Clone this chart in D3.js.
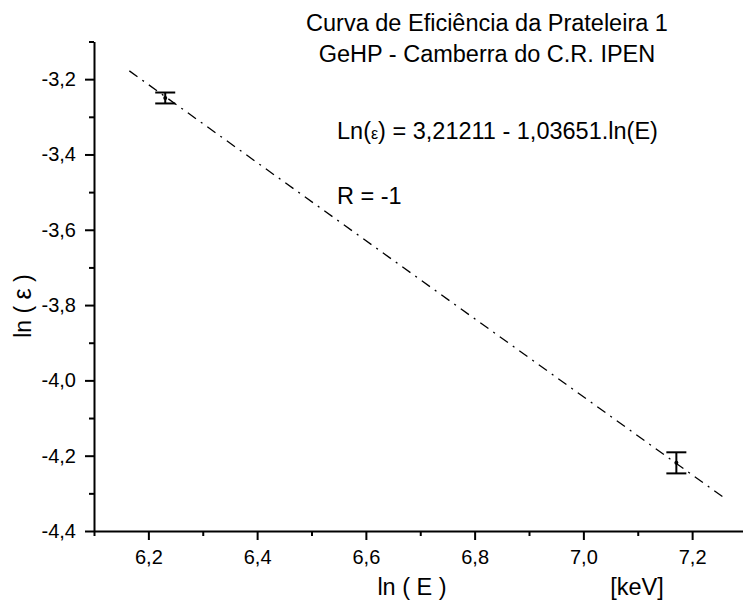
<!DOCTYPE html>
<html>
<head>
<meta charset="utf-8">
<script src="https://cdn.jsdelivr.net/npm/d3@7"></script>
<style>
  body { margin: 0; background: #fff; }
  svg text { font-family: "Liberation Sans", Arial, sans-serif; fill: #000; }
</style>
</head>
<body>
<div id="chart"></div>
<script>
// measured points (ln E, ln eff) with error
const lnE = [6.231, 7.171];
const lnEff = [-3.250, -4.219];
const errEff = [0.0145, 0.028];

// fit: ln(eff) = A + B ln(E)
const fitA = 3.21211;
const fitB = -1.03651;
const fitRange = [6.165, 7.259];

const xMajor = [6.2, 6.4, 6.6, 6.8, 7.0, 7.2];
const xMinor = [6.1, 6.3, 6.5, 6.7, 6.9, 7.1, 7.3];
const yMajor = [-3.2, -3.4, -3.6, -3.8, -4.0, -4.2, -4.4];
const yMinor = [-3.1, -3.3, -3.5, -3.7, -3.9, -4.1, -4.3];

const titleLines = ["Curva de Eficiência da Prateleira 1", "GeHP - Camberra do C.R. IPEN"];

const width = 743, height = 600;

const svg = d3.select("#chart")
    .append("svg")
    .attr("width", width)
    .attr("height", height);

const x = d3.scaleLinear().domain([6.1, 7.3]).range([94, 746.5]);
const y = d3.scaleLinear().domain([-4.4, -3.1]).range([531, 41.5]);

const fmt = d => d.toFixed(1).replace(".", ",");

// minor ticks first
svg.append("g")
    .attr("transform", `translate(0,${y(-4.4)})`)
    .call(d3.axisBottom(x).tickValues(xMinor).tickSize(5).tickFormat(""))
    .call(g => g.select(".domain").remove())
    .call(g => g.selectAll("line").attr("stroke-width", 2));

svg.append("g")
    .attr("transform", `translate(${x(6.1)},0)`)
    .call(d3.axisLeft(y).tickValues(yMinor).tickSize(5).tickFormat(""))
    .call(g => g.select(".domain").remove())
    .call(g => g.selectAll("line").attr("stroke-width", 2));

const xAxis = svg.append("g")
    .attr("transform", `translate(0,${y(-4.4)})`)
    .call(d3.axisBottom(x).tickValues(xMajor).tickSize(9).tickPadding(10).tickFormat(fmt).tickSizeOuter(0));
xAxis.selectAll("text").attr("font-size", 20).attr("font-family", null);
xAxis.selectAll("line").attr("stroke-width", 2);
xAxis.select(".domain").attr("stroke-width", 2);

const yAxis = svg.append("g")
    .attr("transform", `translate(${x(6.1)},0)`)
    .call(d3.axisLeft(y).tickValues(yMajor).tickSize(9).tickPadding(9).tickFormat(fmt).tickSizeOuter(0));
yAxis.selectAll("text").attr("font-size", 20).attr("font-family", null);
yAxis.selectAll("line").attr("stroke-width", 2);
yAxis.select(".domain").attr("stroke-width", 2);

// fit line
const fitLine = d3.line()
    .x(d => x(d))
    .y(d => y(fitA + fitB * d));

svg.append("path")
    .datum(fitRange)
    .attr("d", fitLine)
    .attr("fill", "none")
    .attr("stroke", "#000")
    .attr("stroke-width", 1.3)
    .attr("stroke-dasharray", "10,6,2,6");

// error bars
const pts = lnE.map((v, i) => ({ x: v, y: lnEff[i], e: errEff[i] }));
const bars = svg.append("g").selectAll("g")
    .data(pts)
    .join("g")
    .attr("stroke", "#000")
    .attr("stroke-width", 2);

bars.append("line")
    .attr("x1", d => x(d.x)).attr("x2", d => x(d.x))
    .attr("y1", d => y(d.y + d.e)).attr("y2", d => y(d.y - d.e));
bars.append("line")
    .attr("x1", d => x(d.x) - 10).attr("x2", d => x(d.x) + 10)
    .attr("y1", d => y(d.y + d.e)).attr("y2", d => y(d.y + d.e));
bars.append("line")
    .attr("x1", d => x(d.x) - 10).attr("x2", d => x(d.x) + 10)
    .attr("y1", d => y(d.y - d.e)).attr("y2", d => y(d.y - d.e));

svg.append("g").selectAll("circle")
    .data(pts)
    .join("circle")
    .attr("cx", d => x(d.x))
    .attr("cy", d => y(d.y))
    .attr("r", 2)
    .attr("fill", "#000");

// titles and annotations
svg.append("g").selectAll("text")
    .data(titleLines)
    .join("text")
    .attr("x", 487)
    .attr("y", (d, i) => 31 + i * 31)
    .attr("text-anchor", "middle")
    .attr("font-size", 23.5)
    .text(d => d);

const eq = svg.append("text")
    .attr("x", 337)
    .attr("y", 139)
    .attr("font-size", 23.5);
eq.append("tspan").text("Ln(");
eq.append("tspan").attr("font-size", 16).text("ε");
eq.append("tspan").text(") = 3,21211 - 1,03651.ln(E)");

svg.append("text")
    .attr("x", 337)
    .attr("y", 204)
    .attr("font-size", 23.5)
    .text("R = -1");

// axis titles
const yt = svg.append("text")
    .attr("transform", "translate(31,306) rotate(-90)")
    .attr("text-anchor", "middle")
    .attr("font-size", 23);
yt.append("tspan").text("ln ( ");
yt.append("tspan").attr("font-size", 25).text("ε");
yt.append("tspan").text(" )");

svg.append("text")
    .attr("x", 412)
    .attr("y", 595)
    .attr("text-anchor", "middle")
    .attr("font-size", 23.5)
    .text("ln ( E )");

svg.append("text")
    .attr("x", 637)
    .attr("y", 595)
    .attr("text-anchor", "middle")
    .attr("font-size", 23.5)
    .text("[keV]");
</script>
</body>
</html>
